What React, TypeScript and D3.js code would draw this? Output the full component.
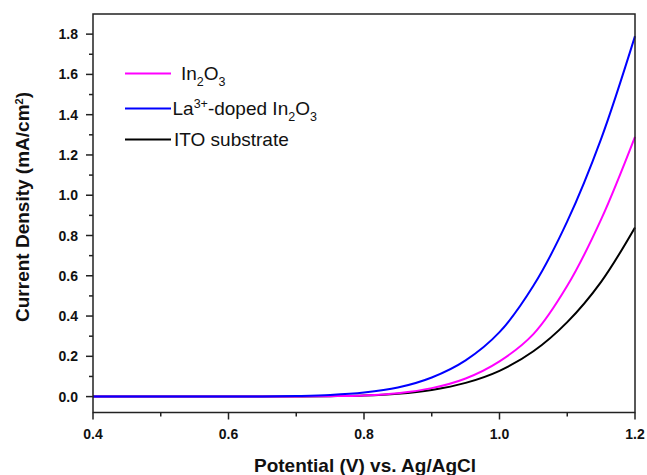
import React from "react";
import * as d3 from "d3";

const potentials = [0.4, 0.5, 0.6, 0.65, 0.7, 0.75, 0.8, 0.85, 0.9, 0.95, 1.0, 1.05, 1.1, 1.15, 1.2];
const in2o3 = [0, 0, 0, 0, 0.0005, 0.002, 0.006, 0.017, 0.042, 0.09, 0.175, 0.31, 0.55, 0.88, 1.29];
const laDoped = [0, 0, 0, 0.0005, 0.003, 0.008, 0.02, 0.045, 0.095, 0.18, 0.32, 0.55, 0.87, 1.28, 1.79];
const ito = [0, 0, 0, 0, 0.0005, 0.002, 0.005, 0.014, 0.033, 0.068, 0.128, 0.225, 0.37, 0.57, 0.84];

const xMajor = [0.4, 0.6, 0.8, 1.0, 1.2];
const xMinor = [0.5, 0.7, 0.9, 1.1];
const yMajor = [0, 0.2, 0.4, 0.6, 0.8, 1.0, 1.2, 1.4, 1.6, 1.8];
const yMinor = [0.1, 0.3, 0.5, 0.7, 0.9, 1.1, 1.3, 1.5, 1.7];

const W = 647;
const H = 475;
const L = 93, R = 635, T = 14, B = 412.5;

export default function App() {
  const x = d3.scaleLinear().domain([0.4, 1.2]).range([L, R]);
  const y = d3.scaleLinear().domain([-0.079, 1.9]).range([B, T]);
  const line = d3
    .line<number>()
    .x((_, i) => x(potentials[i]))
    .y((d) => y(d))
    .curve(d3.curveCatmullRom.alpha(0.5));

  const font = "'Liberation Sans', Arial, sans-serif";
  const axisColor = "#222";

  return (
    <svg width={W} height={H} style={{ position: "absolute", left: 0, top: 0 }} fontFamily={font}>
      <rect x={0} y={0} width={W} height={H} fill="#fff" />
      <g fill="none" strokeWidth={2}>
        <path d={line(ito) || ""} stroke="#000000" />
        <path d={line(in2o3) || ""} stroke="#ff00ff" />
        <path d={line(laDoped) || ""} stroke="#0000ff" />
      </g>
      {/* frame */}
      <rect x={L} y={T} width={R - L} height={B - T} fill="none" stroke={axisColor} strokeWidth={1.5} />
      {/* y ticks */}
      {yMajor.map((v) => (
        <g key={"ym" + v}>
          <line x1={L - 7} x2={L} y1={y(v)} y2={y(v)} stroke={axisColor} strokeWidth={1.5} />
          <text x={L - 15} y={y(v)} dy="0.36em" textAnchor="end" fontSize={14} fontWeight="bold" fill="#111">
            {v.toFixed(1)}
          </text>
        </g>
      ))}
      {yMinor.map((v) => (
        <line key={"yn" + v} x1={L - 4} x2={L} y1={y(v)} y2={y(v)} stroke={axisColor} strokeWidth={1.5} />
      ))}
      {/* x ticks */}
      {xMajor.map((v) => (
        <g key={"xm" + v}>
          <line x1={x(v)} x2={x(v)} y1={B} y2={B + 7} stroke={axisColor} strokeWidth={1.5} />
          <text x={x(v)} y={B + 26} textAnchor="middle" fontSize={14} fontWeight="bold" fill="#111">
            {v.toFixed(1)}
          </text>
        </g>
      ))}
      {xMinor.map((v) => (
        <line key={"xn" + v} x1={x(v)} x2={x(v)} y1={B} y2={B + 4} stroke={axisColor} strokeWidth={1.5} />
      ))}
      {/* axis titles */}
      <text x={365} y={472} textAnchor="middle" fontSize={19} fontWeight="bold" fill="#111">
        Potential (V) vs. Ag/AgCl
      </text>
      <text
        transform={`translate(29, 207) rotate(-90)`}
        textAnchor="middle"
        fontSize={19}
        fontWeight="bold"
        fill="#111"
      >
        Current Density (mA/cm
        <tspan baselineShift="super" fontSize={11}>2</tspan>)
      </text>
      {/* legend */}
      <g fontSize={19} fill="#111">
        <line x1={125} x2={171} y1={73.5} y2={73.5} stroke="#ff00ff" strokeWidth={2} />
        <text x={181} y={80}>
          In<tspan fontSize={12.5} dy={6}>2</tspan>
          <tspan dy={-6}>O</tspan>
          <tspan fontSize={12.5} dy={6}>3</tspan>
        </text>
        <line x1={125} x2={171} y1={108.5} y2={108.5} stroke="#0000ff" strokeWidth={2} />
        <text x={172.5} y={115}>
          La<tspan fontSize={12.5} dy={-7}>3+</tspan>
          <tspan dy={7}>-doped In</tspan>
          <tspan fontSize={12.5} dy={6}>2</tspan>
          <tspan dy={-6}>O</tspan>
          <tspan fontSize={12.5} dy={6}>3</tspan>
        </text>
        <line x1={125} x2={171} y1={139.5} y2={139.5} stroke="#000000" strokeWidth={2} />
        <text x={174} y={146}>ITO substrate</text>
      </g>
    </svg>
  );
}
